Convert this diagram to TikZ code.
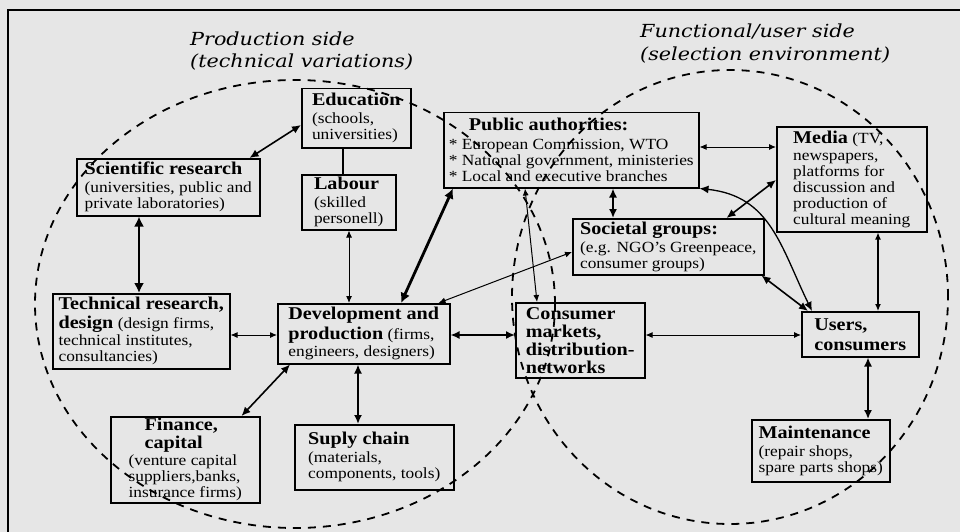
\documentclass[tikz,border=0pt]{standalone}
\usepackage{fontspec}
\usetikzlibrary{arrows.meta,calc}
\newfontfamily\boxfont[FakeStretch=1.12]{Liberation Serif}
\newfontfamily\titlefont[FakeStretch=1.15]{DejaVu Serif}
\newcommand\hd[1]{{\fontsize{18}{20}\selectfont\bfseries #1}}
\definecolor{paper}{HTML}{E6E6E6}
\begin{document}
\begin{tikzpicture}[x=1pt,y=-1pt,
  box/.style={draw, line width=1.5pt, fill=paper, inner sep=1pt, align=left,
    anchor=north west, font=\boxfont\fontsize{15.5}{16}\selectfont},
  title/.style={anchor=west, inner sep=0pt, font=\titlefont\itshape\fontsize{18}{22}\selectfont},
  thin/.style={line width=1pt, {Latex[length=7pt,width=6pt]}-{Latex[length=7pt,width=6pt]}},
  mid/.style={line width=1.6pt, {Latex[length=9pt,width=8pt]}-{Latex[length=9pt,width=8pt]}},
  thick/.style={line width=2.8pt, {Latex[length=10pt,width=10pt]}-{Latex[length=10pt,width=10pt]}},
  field/.style={line width=1.8pt, dash pattern=on 8pt off 7pt},
]
\useasboundingbox (0,0) rectangle (960,532);
\fill[paper] (0,0) rectangle (960,532);
% outer frame, open to the right and bottom
\draw[line width=2pt] (8,532) -- (8,10) -- (960,10);

% headings of the two sides
\node[title] (t1) at (190,39) {Production side};
\node[title] (t2) at (190,62) {(technical variations)};
\node[title] (t3) at (640,31) {Functional/user side};
\node[title] (t4) at (640,55) {(selection environment)};

% actors
\node[box, minimum width=109pt, minimum height=59pt] (edu) at (301,88)
  {\hd{Education}\\[2pt](schools,\\universities)};
\node[box, minimum width=183pt, minimum height=57pt] (sr) at (76,158)
  {\hd{Scientific research}\\[2pt](universities, public and\\private laboratories)};
\node[box, minimum width=94pt, minimum height=55pt] (lab) at (301,174)
  {\hd{Labour}\\[2pt](skilled\\personell)};
\node[box, minimum width=255pt, minimum height=75pt] (pa) at (443,112)
  {\hspace*{20pt}\hd{Public authorities:}\\[3pt]* European Commission, WTO\\* National government, ministeries\\* Local and executive branches};
\node[box, minimum width=150pt, minimum height=105pt] (med) at (776,126)
  {\hd{Media} (TV,\\[1pt]newspapers,\\platforms for\\discussion and\\production of\\cultural meaning};
\node[box, minimum width=191pt, minimum height=56pt] (sg) at (572,218)
  {\hd{Societal groups:}\\[2pt](e.g. NGO’s Greenpeace,\\consumer groups)};
\node[box, minimum width=177pt, minimum height=75pt] (tr) at (52,293)
  {\hd{Technical research,}\\[3pt]\hd{design} (design firms,\\[1pt]technical institutes,\\consultancies)};
\node[box, minimum width=172pt, minimum height=60pt] (dev) at (277,303)
  {\hd{Development and}\\[3pt]\hd{production} (firms,\\[1pt]engineers, designers)};
\node[box, minimum width=129pt, minimum height=75pt] (cm) at (515,302)
  {\hd{Consumer}\\[2pt]\hd{markets,}\\[2pt]\hd{distribution-}\\[2pt]\hd{networks}};
\node[box, minimum width=117pt, minimum height=45pt] (usr) at (801,311)
  {\hd{Users,}\\[4pt]\hd{consumers}};
\node[box, minimum width=149pt, minimum height=86pt] (fin) at (110,416)
  {\hspace*{16pt}\hd{Finance,}\\[2pt]\hspace*{16pt}\hd{capital}\\[1pt](venture capital\\suppliers,banks,\\insurance firms)};
\node[box, minimum width=159pt, minimum height=65pt] (sup) at (294,424)
  {\hd{Suply chain}\\[2pt](materials,\\components, tools)};
\node[box, minimum width=138pt, minimum height=62pt] (mnt) at (751,419)
  {\hd{Maintenance}\\[2pt](repair shops,\\spare parts shops)};

% links between the actors
\draw[mid] ($(sr.north east)+(-11,0)$) -- ($(edu.north west)+(0,37)$);
\draw[line width=1.2pt] ($(edu.south west)+(42,0)$) -- ($(lab.north west)+(42,0)$);
\draw[thick] ($(sr.south west)+(63,0)$) -- ($(tr.north west)+(87,0)$);
\draw[thin] ($(lab.south west)+(48,0)$) -- ($(dev.north west)+(72,0)$);
\draw[thick] ($(pa.south west)+(10,0)$) -- ($(dev.north west)+(124,0)$);
\draw[thin] ($(sg.north west)+(0,34)$) -- ($(dev.north east)+(-12,0)$);
\draw[thin] ($(tr.north east)+(0,42)$) -- ($(dev.north west)+(0,32)$);
\draw[mid] ($(dev.north east)+(0,32)$) -- ($(cm.north west)+(0,33)$);
\draw[thin] ($(cm.north east)+(0,33)$) -- ($(usr.north west)+(0,24)$);
\draw[thin] ($(pa.south west)+(82,0)$) -- ($(cm.north west)+(22,0)$);
\draw[thin] ($(pa.north east)+(0,35)$) -- ($(med.north west)+(0,21)$);
\draw[mid] ($(pa.south west)+(170,0)$) -- ($(sg.north west)+(41,0)$);
\draw[mid] ($(sg.north east)+(-38,0)$) -- ($(med.north west)+(0,54)$);
\draw[mid, line width=1.3pt] (pa.south east) to[out=-6, in=116, looseness=1.1] ($(usr.north west)+(11,0)$);
\draw[mid] ($(sg.south east)+(-3,0)$) -- ($(usr.north west)+(7,0)$);
\draw[thin, line width=1.2pt] ($(med.south west)+(102,0)$) -- ($(usr.north west)+(77,0)$);
\draw[mid] ($(usr.south west)+(67,0)$) -- ($(mnt.north west)+(117,0)$);
\draw[mid] ($(dev.south west)+(13,0)$) -- ($(fin.north east)+(-19,0)$);
\draw[mid, line width=1.8pt] ($(dev.south west)+(81,0)$) -- ($(sup.north west)+(64,0)$);

% the two overlapping fields
\draw[field] (295,304) ellipse [x radius=260pt, y radius=224pt];
\draw[field] (730,297) ellipse [x radius=218pt, y radius=227pt];
\end{tikzpicture}
\end{document}
